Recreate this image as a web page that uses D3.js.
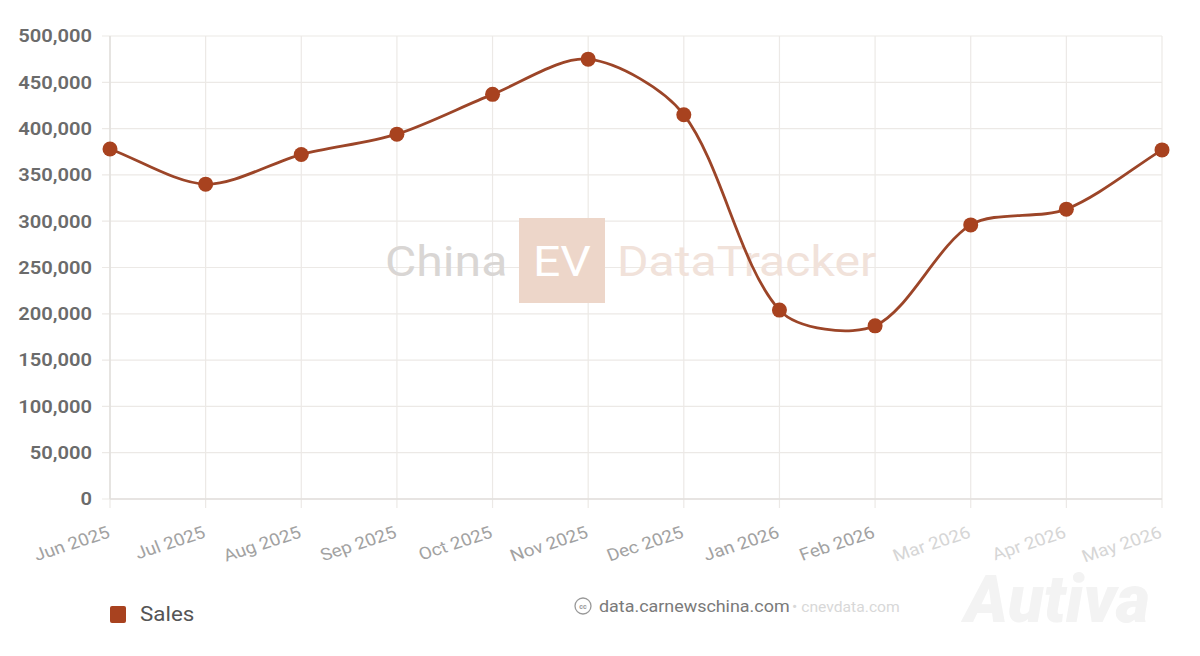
<!DOCTYPE html>
<html>
<head>
<meta charset="utf-8">
<script src="https://cdn.jsdelivr.net/npm/d3@7"></script>
<style>
  html, body { margin: 0; padding: 0; background: #ffffff; }
  svg { display: block; }
</style>
</head>
<body>
<svg id="chart" width="1200" height="656"></svg>
<script>
const months = ["Jun 2025","Jul 2025","Aug 2025","Sep 2025","Oct 2025","Nov 2025","Dec 2025","Jan 2026","Feb 2026","Mar 2026","Apr 2026","May 2026"];
const sales = [378000, 340000, 372000, 394000, 437000, 475000, 415000, 204000, 187000, 296000, 313000, 377000];
const yTicks = [0, 50000, 100000, 150000, 200000, 250000, 300000, 350000, 400000, 450000, 500000];
const seriesName = "Sales";

const svg = d3.select("#chart");
const plotLeft = 110, plotRight = 1162, plotTop = 36, plotBottom = 499;
const SX = 1.12; // horizontal text stretch seen in the reference

const x = d3.scalePoint().domain(months).range([plotLeft, plotRight]);
const y = d3.scaleLinear().domain([0, 500000]).range([plotBottom, plotTop]);

const gridColor = "#ece9e6";

// horizontal grid
svg.append("g").selectAll("line").data(yTicks).join("line")
  .attr("x1", plotLeft - 8).attr("x2", plotRight)
  .attr("y1", d => y(d)).attr("y2", d => y(d))
  .attr("stroke", gridColor).attr("stroke-width", 1.2);

// vertical grid
svg.append("g").selectAll("line").data(months).join("line")
  .attr("x1", d => x(d)).attr("x2", d => x(d))
  .attr("y1", plotTop).attr("y2", plotBottom + 9)
  .attr("stroke", gridColor).attr("stroke-width", 1.2);

// axis lines
svg.append("line").attr("x1", plotLeft).attr("x2", plotLeft).attr("y1", plotTop).attr("y2", plotBottom)
  .attr("stroke", "#e2dfdc").attr("stroke-width", 1.5);
svg.append("line").attr("x1", plotLeft).attr("x2", plotRight).attr("y1", plotBottom).attr("y2", plotBottom)
  .attr("stroke", "#e2dfdc").attr("stroke-width", 1.5);

// y labels
const fmt = d3.format(",");
svg.append("g").selectAll("text").data(yTicks).join("text")
  .attr("transform", d => `translate(92,${y(d)}) scale(${SX},1)`)
  .attr("dy", "0.35em")
  .attr("text-anchor", "end")
  .attr("font-family", "Roboto, 'Noto Sans', sans-serif")
  .attr("font-size", 18).attr("font-weight", 600)
  .attr("fill", "#6b6b6b")
  .text(d => fmt(d));

// watermark
const wm = svg.append("g");
wm.append("text").attr("transform", `translate(385,276) scale(${SX},1)`)
  .attr("font-family", "Roboto, sans-serif").attr("font-size", 43)
  .attr("fill", "#d9d6d4").text("China");
wm.append("rect").attr("x", 519).attr("y", 218).attr("width", 86).attr("height", 85)
  .attr("fill", "#edd6c9");
wm.append("text").attr("transform", `translate(562,276) scale(${SX},1)`).attr("text-anchor", "middle")
  .attr("font-family", "Roboto, sans-serif").attr("font-size", 43)
  .attr("fill", "#ffffff").text("EV");
wm.append("text").attr("transform", `translate(617,276) scale(${SX},1)`)
  .attr("font-family", "Roboto, sans-serif").attr("font-size", 43)
  .attr("fill", "#f1e2da").text("DataTracker");

// x labels
svg.append("g").selectAll("text").data(months).join("text")
  .attr("transform", d => `translate(${x(d) + 1},${plotBottom + 38}) scale(${SX},1) rotate(-20)`)
  .attr("text-anchor", "end")
  .attr("font-family", "Roboto, 'Noto Sans', sans-serif")
  .attr("font-size", 17)
  .attr("fill", (d, i) => i >= 9 ? "#d6d6d6" : "#a2a2a2")
  .text(d => d);

// Chart.js-like spline curve
function chartjsCurve(context) {
  let pts = [];
  return {
    areaStart() {}, areaEnd() {},
    lineStart() { pts = []; },
    point(px, py) { pts.push([px, py]); },
    lineEnd() {
      const t = 0.3, n = pts.length;
      const cps = pts.map((p, i) => {
        const prev = pts[Math.max(0, i - 1)], next = pts[Math.min(n - 1, i + 1)];
        const d01 = Math.hypot(p[0] - prev[0], p[1] - prev[1]);
        const d12 = Math.hypot(next[0] - p[0], next[1] - p[1]);
        let s01 = d01 / (d01 + d12), s12 = d12 / (d01 + d12);
        if (isNaN(s01)) s01 = 0; if (isNaN(s12)) s12 = 0;
        const fa = t * s01, fb = t * s12;
        return {
          prev: [p[0] - fa * (next[0] - prev[0]), p[1] - fa * (next[1] - prev[1])],
          next: [p[0] + fb * (next[0] - prev[0]), p[1] + fb * (next[1] - prev[1])]
        };
      });
      context.moveTo(pts[0][0], pts[0][1]);
      for (let i = 1; i < n; i++) {
        context.bezierCurveTo(cps[i - 1].next[0], cps[i - 1].next[1], cps[i].prev[0], cps[i].prev[1], pts[i][0], pts[i][1]);
      }
    }
  };
}

const line = d3.line().x((d, i) => x(months[i])).y(d => y(d)).curve(chartjsCurve);
svg.append("path").datum(sales).attr("d", line)
  .attr("fill", "none").attr("stroke", "#9c4528").attr("stroke-width", 2.8);

svg.append("g").selectAll("circle").data(sales).join("circle")
  .attr("cx", (d, i) => x(months[i])).attr("cy", d => y(d)).attr("r", 7.5)
  .attr("fill", "#a8421f");

// legend
svg.append("rect").attr("x", 110).attr("y", 606).attr("width", 16).attr("height", 17)
  .attr("rx", 2).attr("fill", "#a8421f");
svg.append("text").attr("transform", `translate(140,621) scale(${SX},1)`)
  .attr("font-family", "Roboto, 'Noto Sans', sans-serif").attr("font-size", 20)
  .attr("fill", "#555").text(seriesName);

// credit
svg.append("circle").attr("cx", 583).attr("cy", 606).attr("r", 8)
  .attr("fill", "none").attr("stroke", "#999").attr("stroke-width", 1.3);
svg.append("text").attr("x", 583).attr("y", 609).attr("text-anchor", "middle")
  .attr("font-family", "Roboto, sans-serif").attr("font-size", 7).attr("font-weight", 700)
  .attr("fill", "#999").text("cc");
svg.append("text").attr("transform", `translate(599,612) scale(${SX},1)`)
  .attr("font-family", "Roboto, 'Noto Sans', sans-serif").attr("font-size", 16)
  .attr("fill", "#7a7a7a").text("data.carnewschina.com");
svg.append("text").attr("transform", `translate(792,612) scale(${SX},1)`)
  .attr("font-family", "Roboto, 'Noto Sans', sans-serif").attr("font-size", 14)
  .attr("fill", "#d8d8d8").text("• cnevdata.com");

// faint bottom-right watermark
svg.append("text").attr("x", 1150).attr("y", 622).attr("text-anchor", "end")
  .attr("font-family", "Roboto, sans-serif").attr("font-size", 66).attr("font-weight", 900)
  .attr("font-style", "italic").attr("fill", "#f3f3f3").text("Autiva");
</script>
</body>
</html>
